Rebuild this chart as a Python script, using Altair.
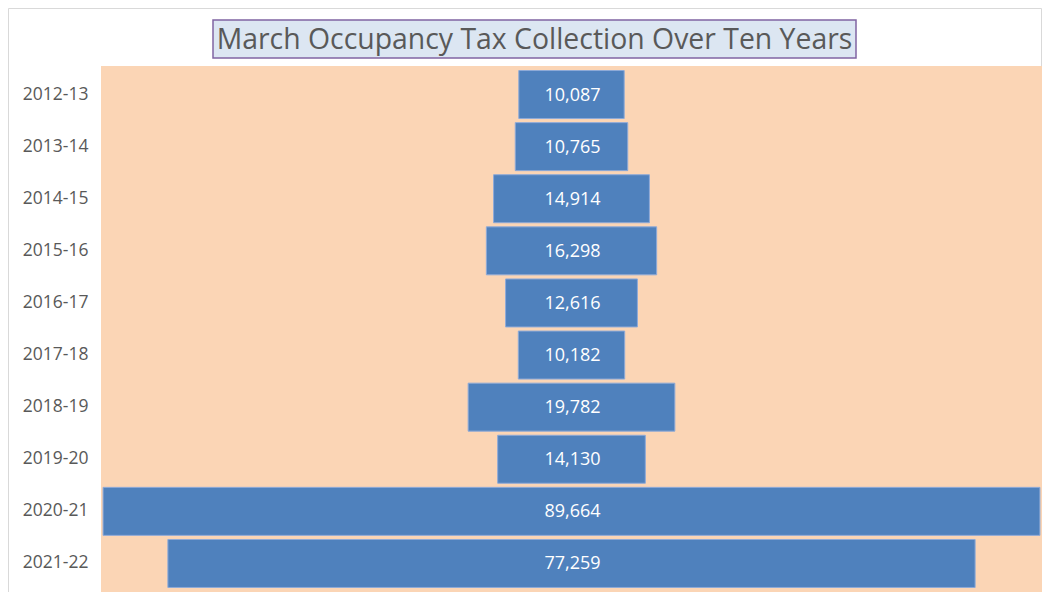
import altair as alt
import pandas as pd

years = ["2012-13", "2013-14", "2014-15", "2015-16", "2016-17",
         "2017-18", "2018-19", "2019-20", "2020-21", "2021-22"]
values = [10087, 10765, 14914, 16298, 12616, 10182, 19782, 14130, 89664, 77259]
title_text = "March Occupancy Tax Collection Over Ten Years"

df = pd.DataFrame({"year": years, "value": values})
df["start"] = -df["value"] / 2
df["end"] = df["value"] / 2
df["label"] = df["value"].map(lambda v: f"{v:,}")

W, H = 941, 526
half = 45030

xs = alt.Scale(domain=[-half, half], nice=False, zero=False)
ys = alt.Scale(domain=years, paddingInner=0.079, paddingOuter=0.087)

base = alt.Chart(df)

tdf = pd.DataFrame({"t": [title_text]})

plot_bg = alt.Chart(tdf).mark_rect(fill="#fbd5b5").encode(
    x=alt.value(0), x2=alt.value(W), y=alt.value(0), y2=alt.value(H)
)

bars = base.mark_bar(color="#4f81bd", stroke="#8eaad8", strokeWidth=1).encode(
    y=alt.Y("year:N", scale=ys, sort=years,
            axis=alt.Axis(title=None, domain=False, ticks=False, labelPadding=13,
                          labelFont="Open Sans", labelFontSize=17.5, labelColor="#595959")),
    x=alt.X("start:Q", scale=xs, axis=None),
    x2="end:Q",
)

texts = base.mark_text(color="white", font="Open Sans", fontSize=18, dy=1).encode(
    y=alt.Y("year:N", scale=ys, sort=years),
    x=alt.value(W / 2 + 1),
    text="label:N",
)

title_box = alt.Chart(tdf).mark_rect(fill="#dce6f2", stroke="#8064a2", strokeWidth=1.5).encode(
    x=alt.value(112), x2=alt.value(755), y=alt.value(-46), y2=alt.value(-8)
)
title_txt = alt.Chart(tdf).mark_text(font="Open Sans", fontSize=28.4, color="#595959").encode(
    x=alt.value(433.5), y=alt.value(-26), text="t:N"
)
outer = alt.Chart(tdf).mark_rect(fill=None, stroke="#d9d9d9", strokeWidth=1).encode(
    x=alt.value(-92.5), x2=alt.value(W - 0.5), y=alt.value(-57.5), y2=alt.value(H + 5)
)

chart = alt.layer(outer, plot_bg, bars, texts, title_box, title_txt).properties(
    width=W, height=H,
    autosize=alt.AutoSizeParams(type="none"),
    padding={"left": 93, "top": 58, "right": 0, "bottom": 0},
).configure_view(stroke=None).configure(background="white")

chart.save("out.html", embed_options={"renderer": "svg", "actions": False})
